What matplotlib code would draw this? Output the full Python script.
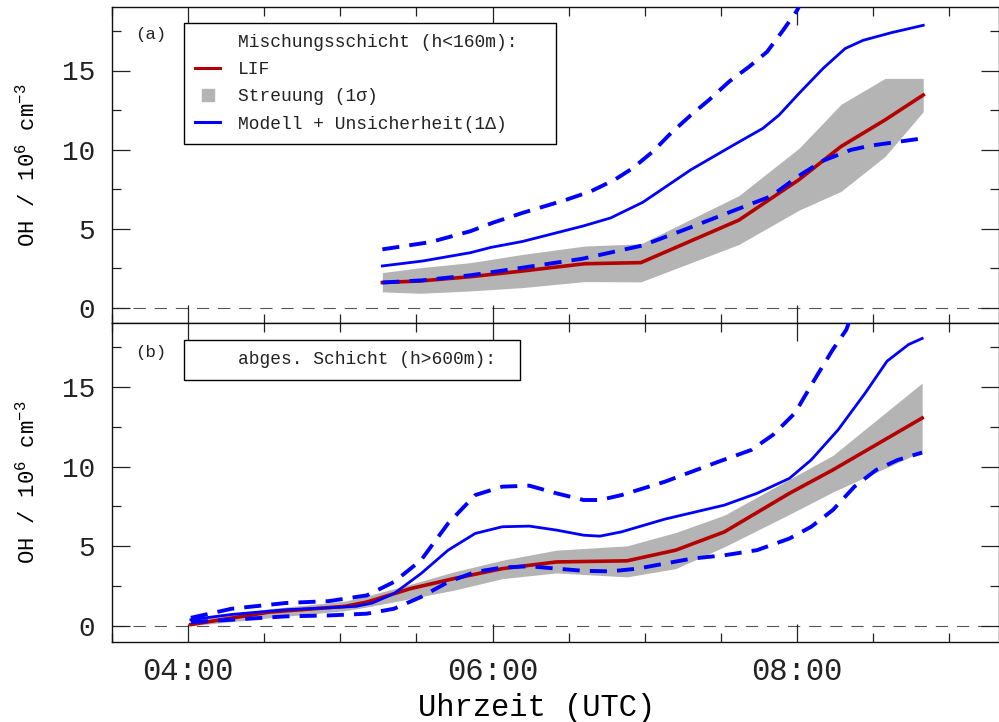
import matplotlib
matplotlib.use("Agg")
import matplotlib.pyplot as plt
from matplotlib.ticker import MultipleLocator, FuncFormatter
from matplotlib.lines import Line2D

plt.rcParams['font.family'] = ['Liberation Mono', 'DejaVu Sans Mono', 'DejaVu Sans']
plt.rcParams['mathtext.fontset'] = 'custom'
plt.rcParams['mathtext.rm'] = 'Liberation Mono'
plt.rcParams['mathtext.default'] = 'regular'

# ---------------- data (time in decimal hours UTC, OH in 1e6 cm^-3) ----------------
# Panel (a): mixing layer (h<160m)
t_lif_a = [5.276, 5.526, 5.855, 6.197, 6.605, 6.974, 7.618, 8.013, 8.289, 8.578, 8.829]
lif_a = [1.58, 1.68, 1.95, 2.31, 2.77, 2.84, 5.53, 8.09, 10.19, 11.87, 13.45]
lif_a_low = [0.99, 0.90, 1.05, 1.26, 1.64, 1.62, 3.99, 6.16, 7.35, 9.56, 12.39]
lif_a_high = [2.21, 2.52, 2.84, 3.36, 3.89, 4.03, 7.08, 10.08, 12.86, 14.50, 14.50]

t_mod_a = [5.276, 5.539, 5.855, 5.987, 6.197, 6.592, 6.776, 6.987, 7.303, 7.566,
           7.776, 7.882, 8.013, 8.171, 8.316, 8.434, 8.618, 8.829]
mod_a = [2.63, 2.94, 3.47, 3.80, 4.18, 5.15, 5.67, 6.66, 8.72, 10.19,
         11.34, 12.18, 13.55, 15.13, 16.39, 16.91, 17.39, 17.86]

t_mod_a_hi = [5.276, 5.592, 5.855, 6.0, 6.197, 6.329, 6.487, 6.645, 6.803, 6.921,
              7.053, 7.171, 7.303, 7.421, 7.553, 7.684, 7.803, 7.908, 8.0, 8.03]
mod_a_hi = [3.68, 4.14, 4.83, 5.36, 5.99, 6.37, 6.83, 7.35, 8.09, 8.82,
            9.87, 11.03, 12.18, 13.13, 14.29, 15.23, 16.18, 17.54, 18.80, 19.4]

t_mod_a_lo = [5.276, 5.539, 5.855, 6.197, 6.592, 6.987, 7.303, 7.618, 7.829, 8.013,
              8.171, 8.355, 8.487, 8.829]
mod_a_lo = [1.58, 1.72, 2.04, 2.52, 3.09, 3.93, 5.08, 6.26, 7.04, 8.34,
            9.29, 9.98, 10.25, 10.71]

# Panel (b): residual layer (h>600m)
t_lif_b = [4.018, 4.534, 5.032, 5.174, 5.459, 5.744, 6.064, 6.420, 6.883, 7.203,
           7.523, 7.950, 8.235, 8.822]
lif_b = [0.08, 0.86, 1.22, 1.49, 2.33, 2.96, 3.59, 4.01, 4.08, 4.75,
         5.90, 8.32, 9.79, 13.05]
lif_b_low = [0.0, 0.5, 0.95, 1.18, 1.7, 2.23, 2.96, 3.32, 3.07, 3.59,
             4.96, 7.0, 8.4, 10.95]
lif_b_high = [0.34, 1.07, 1.55, 1.87, 2.6, 3.38, 4.12, 4.75, 5.02, 5.86,
              6.95, 9.2, 10.7, 15.25]

t_mod_b = [4.018, 4.285, 4.641, 4.925, 5.103, 5.210, 5.352, 5.530, 5.708, 5.886,
           6.064, 6.242, 6.420, 6.598, 6.705, 6.847, 7.132, 7.310, 7.523, 7.737,
           7.950, 8.093, 8.270, 8.448, 8.591, 8.733, 8.822]
mod_b = [0.38, 0.71, 1.01, 1.13, 1.22, 1.43, 2.02, 3.28, 4.75, 5.80,
         6.22, 6.26, 6.01, 5.69, 5.63, 5.90, 6.70, 7.10, 7.58, 8.32,
         9.26, 10.42, 12.31, 14.62, 16.62, 17.67, 18.05]

t_mod_b_hi = [4.018, 4.285, 4.641, 4.925, 5.174, 5.352, 5.530, 5.708, 5.886, 6.064,
              6.242, 6.420, 6.598, 6.705, 6.847, 7.132, 7.488, 7.701, 7.843, 7.986,
              8.128, 8.235, 8.324, 8.35]
mod_b_hi = [0.50, 1.07, 1.43, 1.55, 1.91, 2.75, 4.12, 6.43, 8.21, 8.74,
            8.80, 8.32, 7.90, 7.90, 8.21, 9.05, 10.32, 11.05, 12.00, 13.36,
            15.67, 17.35, 18.6, 19.3]

t_mod_b_lo = [4.018, 4.285, 4.641, 4.925, 5.174, 5.352, 5.530, 5.708, 5.886, 6.064,
              6.242, 6.420, 6.598, 6.776, 6.954, 7.132, 7.310, 7.523, 7.737, 7.950,
              8.093, 8.235, 8.377, 8.520, 8.662, 8.822]
mod_b_lo = [0.23, 0.38, 0.59, 0.65, 0.76, 1.07, 1.81, 2.75, 3.38, 3.66,
            3.74, 3.59, 3.45, 3.42, 3.59, 3.91, 4.22, 4.43, 4.75, 5.48,
            6.22, 7.27, 8.74, 9.79, 10.42, 10.88]

panel_tags = ["(a)", "(b)"]
layer_titles = ["Mischungsschicht (h<160m):", "abges. Schicht (h>600m):"]
legend_labels = ["LIF", "Streuung (1\u03c3)", "Modell + Unsicherheit(1\u0394)"]

RED = '#b40000'
BLUE = '#0000ff'
GRAY = '#b4b4b4'

W, H = 999, 722
fig = plt.figure(figsize=(W / 100, H / 100), dpi=100)
left = 112 / W
width = (W - 112) / W
axA = fig.add_axes([left, 1 - 323.3 / H, width, (323.3 - 7.3) / H])
axB = fig.add_axes([left, 1 - 641.7 / H, width, (641.7 - 323.3) / H])

datasets = [
    (t_lif_a, lif_a, lif_a_low, lif_a_high, t_mod_a, mod_a, t_mod_a_hi, mod_a_hi, t_mod_a_lo, mod_a_lo),
    (t_lif_b, lif_b, lif_b_low, lif_b_high, t_mod_b, mod_b, t_mod_b_hi, mod_b_hi, t_mod_b_lo, mod_b_lo),
]

dash = (4.4, 2.6)
for i, (ax, d) in enumerate(zip([axA, axB], datasets)):
    tl, l, lo, hi, tm, m, tmh, mh, tml, ml = d
    ax.axhline(0, color='#555555', lw=0.8, linestyle=(0, (11, 8)), zorder=1)
    ax.fill_between(tl, lo, hi, color=GRAY, lw=0, zorder=2)
    ax.plot(tl, l, color=RED, lw=2.6, zorder=3, solid_joinstyle='miter')
    ax.plot(tm, m, color=BLUE, lw=2.0, zorder=4)
    ax.plot(tmh, mh, color=BLUE, lw=2.8, linestyle=(0, dash), dash_capstyle='butt', zorder=4)
    ax.plot(tml, ml, color=BLUE, lw=2.8, linestyle=(0, dash), dash_capstyle='butt', zorder=4)

    ax.set_xlim(3.5, 9.3267)
    ax.set_ylim(-1, 19)
    ax.xaxis.set_major_locator(MultipleLocator(2))
    ax.xaxis.set_minor_locator(MultipleLocator(0.5))
    ax.yaxis.set_major_locator(MultipleLocator(5))
    ax.yaxis.set_minor_locator(MultipleLocator(2.5))
    ax.tick_params(which='both', direction='in', top=True, right=True, colors='#222222')
    ax.tick_params(which='major', length=12.7, width=0.9, labelsize=20, pad=12)
    ax.tick_params(which='minor', length=6.3, width=0.9)
    ax.tick_params(axis='x', which='major', labelsize=22, pad=11)
    for sp in ax.spines.values():
        sp.set_linewidth(1.0)
        sp.set_color('#111111')
    ax.set_ylabel("OH / 10$^6$ cm$^{-3}$", fontsize=16, va='center')
    ax.yaxis.set_label_coords(-0.0947, 0.5)

    ax.text(0.026, 0.915 if i == 0 else 0.908, panel_tags[i], transform=ax.transAxes,
            fontsize=12.5, ha='left', va='center', color='#222222')

    header = Line2D([], [], color='none', label=layer_titles[i])
    if i == 0:
        handles = [header,
                   Line2D([], [], color=RED, lw=2.2, label=legend_labels[0]),
                   Line2D([], [], color=GRAY, lw=0, marker='s', markersize=9, label=legend_labels[1]),
                   Line2D([], [], color=BLUE, lw=2.2, label=legend_labels[2])]
        bbox = (0.081, 0.567, 0.419, 0.384)
    else:
        handles = [header]
        bbox = (0.081, 0.821, 0.3787, 0.1266)
    leg = ax.legend(handles=handles, loc='upper left', bbox_to_anchor=bbox, mode='expand',
                    fontsize=12.9, frameon=True, fancybox=False, framealpha=1,
                    edgecolor='black', borderpad=0.63, labelspacing=0.57,
                    handlelength=1.4, handletextpad=0.98, borderaxespad=0)
    leg.get_frame().set_linewidth(1.0)
    for txt in leg.get_texts():
        txt.set_color('#222222')

axA.tick_params(axis='x', labelbottom=False)
axB.xaxis.set_major_formatter(FuncFormatter(lambda v, p: "%02d:00" % int(round(v))))
axB.set_xlabel("Uhrzeit (UTC)", fontsize=22)
axB.xaxis.set_label_coords(0.479, -0.207)
axB.xaxis.label.set_verticalalignment('center')

fig.savefig("out.png", dpi=100)
